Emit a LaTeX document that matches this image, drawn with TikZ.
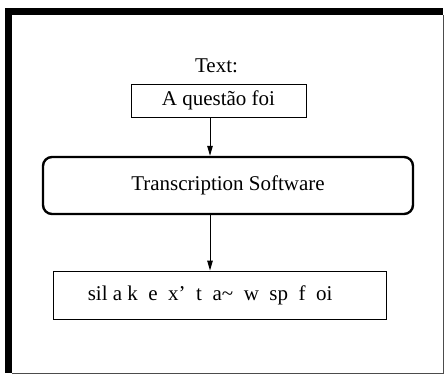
\documentclass[tikz,border=0pt]{standalone}
\usepackage{fontspec}
\setmainfont{Liberation Serif}
\usepackage{tikz}
\usetikzlibrary{arrows.meta}
\usetikzlibrary{calc}
\tikzstyle{arrow} = [line width=1pt,-{Triangle[length=10pt,width=5.5pt]}]
\tikzstyle{txtbox} = [draw, line width=0.9pt, rectangle, inner sep=0pt]
\tikzstyle{softbox} = [draw, line width=2.4pt, rectangle, rounded corners=9pt, inner sep=0pt]

\begin{document}
\begin{tikzpicture}[x=1pt, y=-1pt, font=\fontsize{21}{25}\selectfont]
			\useasboundingbox (0,0) rectangle (444,375);
			% frame
			\fill (5,8) rectangle (443,15);
			\fill (5,8) rectangle (12,373);
			\draw [line width=1pt, black!70] (12,373) -- (443,373) -- (443,15);
			
			\node (title) at (216.5,66) {Text:};
			\node [txtbox, minimum width=175pt, minimum height=33pt] (inbox) at (218.5,100.5) {A questão foi};
			\node [softbox, minimum width=370pt, minimum height=57pt] (soft) at (228,185.5) {Transcription Software};
			\node [txtbox, minimum width=333pt, minimum height=48pt] (outbox) at (219.5,295) {};
			\node [anchor=west, inner sep=0pt] (phones) at ($(outbox.west)+(35,0)$)
				{sil a k\ \ e\ \ x’\ \ t\ \ a\textasciitilde\ \ w\ \ sp\ \ f\ \ oi};
			
			\coordinate (ax) at (210,0);
			\draw [arrow] (inbox.south -| ax) -- (soft.north -| ax);
			\draw [arrow] (soft.south -| ax) -- (outbox.north -| ax);
			
		\end{tikzpicture}
\end{document}
